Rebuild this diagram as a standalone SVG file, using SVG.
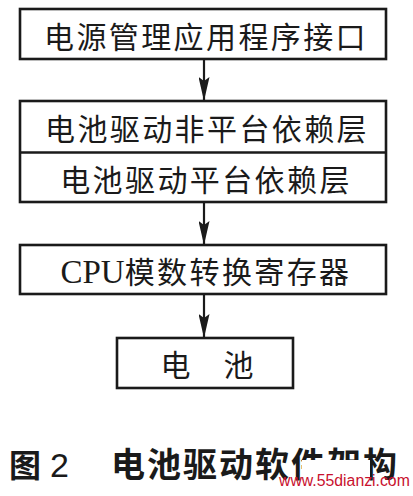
<svg xmlns="http://www.w3.org/2000/svg" width="413" height="496" viewBox="0 0 413 496">
<defs>
<style>
.box{fill:#fff;stroke:#1a1a1a;stroke-width:2.6}
.t{font-family:"Noto Sans CJK SC","Noto Sans",sans-serif;font-size:30px;fill:#1a1a1a;text-anchor:middle;letter-spacing:2.4px}
.ser{font-family:"Liberation Serif",serif}
.line{stroke:#1a1a1a;stroke-width:2.2;fill:none}
.cap{font-family:"Noto Sans CJK SC","Noto Sans",sans-serif;font-weight:bold;fill:#1a1a1a}
</style>
<marker id="ah" markerWidth="24" markerHeight="11" refX="23" refY="5.5" orient="auto" markerUnits="userSpaceOnUse" viewBox="0 0 24 11">
<path d="M0,0 L4,5.5 L0,11 L24,5.5 Z" fill="#1a1a1a"/>
</marker>
</defs>
<rect width="413" height="496" fill="#fff"/>
<g id="connectors">
<line class="line" x1="204" y1="60" x2="204" y2="100" marker-end="url(#ah)"/>
<line class="line" x1="204" y1="203" x2="204" y2="244" marker-end="url(#ah)"/>
<line class="line" x1="204" y1="295" x2="204" y2="337" marker-end="url(#ah)"/>
</g>
<g id="n1">
<rect class="box" x="20" y="9" width="366" height="50"/>
<text class="t" x="206" y="48">电源管理应用程序接口</text>
</g>
<g id="n2">
<rect class="box" x="20" y="101" width="366" height="101"/>
<line class="line" x1="20" y1="152.5" x2="386" y2="152.5" style="stroke-width:2.4"/>
<text class="t" x="207" y="140">电池驱动非平台依赖层</text>
<text class="t" x="206" y="191">电池驱动平台依赖层</text>
</g>
<g id="n3">
<rect class="box" x="20" y="245" width="366" height="49"/>
<text class="t" x="206" y="283"><tspan class="ser" style="font-size:33px;letter-spacing:0">CPU</tspan>模数转换寄存器</text>
</g>
<g id="n4">
<rect class="box" x="117" y="338" width="176" height="50"/>
<text class="t" x="207" y="376" style="letter-spacing:0">电<tspan dx="33">池</tspan></text>
</g>
<g id="caption">
<text class="cap" x="9" y="477" style="font-size:32px">图</text>
<text x="50" y="477" style="font-family:'Liberation Sans',sans-serif;font-size:34px;fill:#1a1a1a">2</text>
<text class="cap" x="111" y="477" style="font-size:34px;letter-spacing:2px">电池驱动软件架构</text>
<rect x="302" y="460" width="68" height="24" fill="#fff"/>
<text x="279" y="486" style="font-family:'Liberation Sans',sans-serif;font-size:15.8px;fill:#c8102e">www.55dianzi.com</text>
</g>
</svg>
